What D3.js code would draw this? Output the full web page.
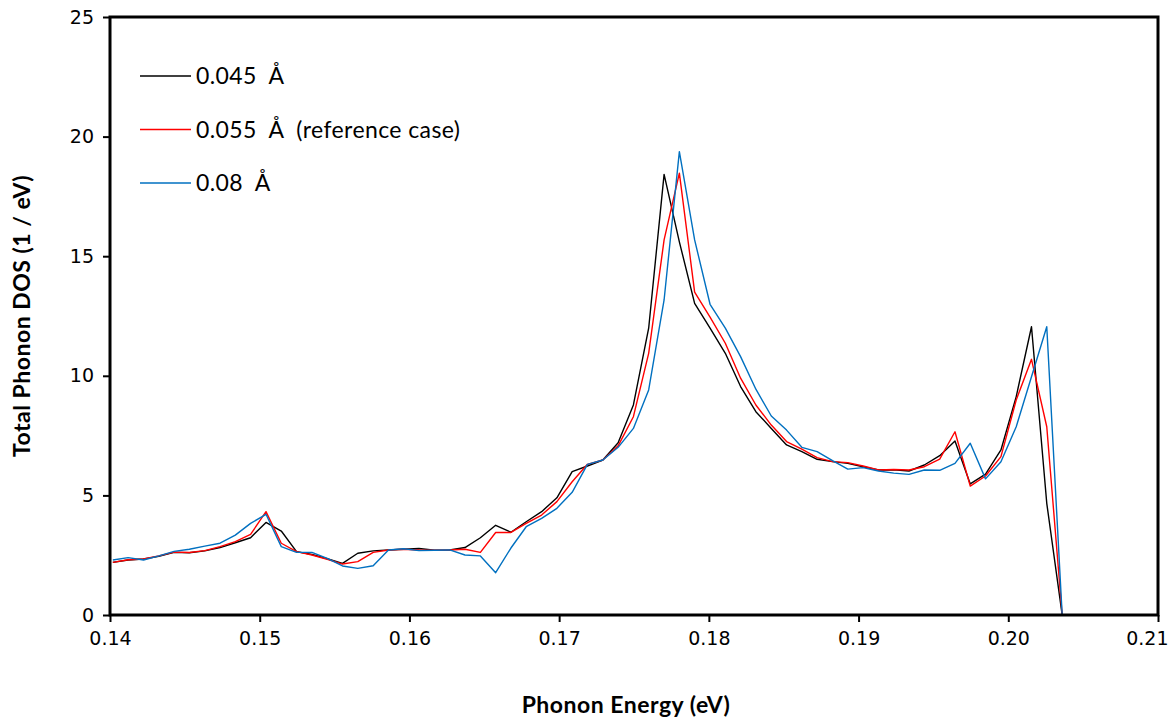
<!DOCTYPE html>
<html lang="en">
  <head>
    <meta charset="UTF-8" />
    <title>Total phonon DOS</title>
    <script src="https://d3js.org/d3.v7.min.js"></script>
    <style>
      body { margin: 0; background: #fff; }
      .tick text { font-family: "DejaVu Sans", sans-serif; font-size: 19px; fill: #000; }
      .tick line { stroke: #000; stroke-width: 2; }
      .title { font-family: Lato, "Open Sans", sans-serif; font-weight: bold; font-size: 23px; letter-spacing: 0.5px; }
      .legend text { font-family: Lato, "Open Sans", sans-serif; font-size: 23px; letter-spacing: 0.4px; white-space: pre; }
    </style>
  </head>
  <body>
    <div id="chart"></div>
    <script>
      // energies of the sampled points (eV)
      const energy = [
        0.14019, 0.14121, 0.14224, 0.14326, 0.14428, 0.1453, 0.14633, 0.14735, 0.14837, 0.14939,
        0.15042, 0.15144, 0.15246, 0.15349, 0.15451, 0.15553, 0.15655, 0.15758, 0.1586, 0.15962,
        0.16064, 0.16167, 0.16269, 0.16371, 0.16474, 0.16576, 0.16678, 0.1678, 0.16883, 0.16985,
        0.17087, 0.17189, 0.17292, 0.17394, 0.17496, 0.17598, 0.17701, 0.17803, 0.17905, 0.18008,
        0.1811, 0.18212, 0.18314, 0.18417, 0.18519, 0.18621, 0.18723, 0.18826, 0.18928, 0.1903,
        0.19133, 0.19235, 0.19337, 0.19439, 0.19542, 0.19644, 0.19746, 0.19848, 0.19951, 0.20053,
        0.20155, 0.20257, 0.2036
      ];

      // 0.045 A
      const dos045 = [
        2.2, 2.3, 2.34, 2.45, 2.62, 2.6, 2.68, 2.82, 3.02, 3.23,
        3.87, 3.51, 2.65, 2.53, 2.35, 2.16, 2.58, 2.68, 2.72, 2.75,
        2.78, 2.71, 2.72, 2.82, 3.23, 3.75, 3.46, 3.9, 4.32, 4.9,
        5.99, 6.23, 6.48, 7.2, 8.78, 11.99, 18.42, 15.6, 13.03, 11.99,
        10.94, 9.55, 8.5, 7.8, 7.11, 6.83, 6.51, 6.41, 6.34, 6.2,
        6.06, 6.07, 6.02, 6.27, 6.66, 7.27, 5.48, 5.89, 6.9, 9.13,
        12.05, 4.67, 0
      ];

      // 0.055 A (reference case)
      const dos055 = [
        2.2, 2.31, 2.34, 2.47, 2.63, 2.61, 2.69, 2.86, 3.07, 3.37,
        4.32, 3.0, 2.65, 2.51, 2.33, 2.13, 2.23, 2.62, 2.72, 2.75,
        2.72, 2.71, 2.72, 2.75, 2.62, 3.45, 3.45, 3.83, 4.18, 4.74,
        5.57, 6.3, 6.48, 7.07, 8.29, 10.94, 15.68, 18.47, 13.5, 12.45,
        11.36, 9.9, 8.78, 7.94, 7.25, 6.93, 6.58, 6.41, 6.37, 6.23,
        6.06, 6.08, 6.06, 6.2, 6.52, 7.66, 5.39, 5.81, 6.62, 8.99,
        10.69, 7.87, 0
      ];

      // 0.08 A
      const dos08 = [
        2.3, 2.4, 2.3, 2.47, 2.66, 2.75, 2.88, 3.0, 3.34, 3.83,
        4.21, 2.86, 2.62, 2.62, 2.37, 2.05, 1.95, 2.06, 2.72, 2.77,
        2.69, 2.71, 2.72, 2.51, 2.47, 1.77, 2.8, 3.69, 4.04, 4.46,
        5.13, 6.3, 6.48, 7.01, 7.8, 9.41, 13.17, 19.37, 15.68, 12.99,
        11.99, 10.8, 9.44, 8.32, 7.73, 7.01, 6.83, 6.45, 6.1, 6.16,
        6.02, 5.93, 5.88, 6.06, 6.05, 6.34, 7.18, 5.69, 6.41, 7.87,
        9.96, 12.05, 0
      ];

      const seriesNames = ["0.045  Å", "0.055  Å  (reference case)", "0.08  Å"];
      const seriesColors = ["#000000", "#ff0000", "#0070c0"];
      const xTicks = [0.14, 0.15, 0.16, 0.17, 0.18, 0.19, 0.2, 0.21];
      const yTicks = [0, 5, 10, 15, 20, 25];

      const width = 1173, height = 719;
      const margin = { top: 17, right: 15, bottom: 104, left: 110 };
      const innerW = width - margin.left - margin.right;
      const innerH = height - margin.top - margin.bottom;

      const svg = d3
        .select("#chart")
        .append("svg")
        .attr("width", width)
        .attr("height", height);

      const g = svg
        .append("g")
        .attr("transform", `translate(${margin.left},${margin.top})`);

      const x = d3.scaleLinear().domain([0.14, 0.21]).range([0, innerW]);
      const y = d3.scaleLinear().domain([0, 25]).range([innerH, 0]);

      // axes (frame drawn separately)
      const xAxis = g
        .append("g")
        .attr("transform", `translate(0,${innerH})`)
        .call(
          d3.axisBottom(x).tickValues(xTicks).tickFormat(d3.format(".2f"))
            .tickSizeInner(7).tickSizeOuter(0).tickPadding(10)
        );
      xAxis.select(".domain").remove();
      // keep the last label inside the picture
      xAxis.selectAll(".tick text")
        .filter((d) => d === 0.21)
        .attr("text-anchor", "end")
        .attr("dx", 10);

      const yAxis = g
        .append("g")
        .call(
          d3.axisLeft(y).tickValues(yTicks).tickSizeInner(7).tickSizeOuter(0).tickPadding(9)
        );
      yAxis.select(".domain").remove();

      // lines
      g.append("clipPath")
        .attr("id", "plotclip")
        .append("rect")
        .attr("width", innerW)
        .attr("height", innerH);

      const line = d3
        .line()
        .x((d) => x(d[0]))
        .y((d) => y(d[1]));

      const allSeries = [dos045, dos055, dos08];
      allSeries.forEach((vals, i) => {
        g.append("path")
          .datum(energy.map((e, j) => [e, vals[j]]))
          .attr("clip-path", "url(#plotclip)")
          .attr("fill", "none")
          .attr("stroke", seriesColors[i])
          .attr("stroke-width", 1.4)
          .attr("stroke-linejoin", "round")
          .attr("d", line);
      });

      // plot frame
      g.append("rect")
        .attr("width", innerW)
        .attr("height", innerH)
        .attr("fill", "none")
        .attr("stroke", "#000")
        .attr("stroke-width", 3);

      // legend
      const legend = g.append("g").attr("class", "legend");
      seriesNames.forEach((name, i) => {
        const ly = 59 + i * 53.5;
        legend
          .append("line")
          .attr("x1", 30)
          .attr("x2", 81)
          .attr("y1", ly)
          .attr("y2", ly)
          .attr("stroke", seriesColors[i])
          .attr("stroke-width", 1.4);
        legend
          .append("text")
          .attr("x", 86)
          .attr("y", ly)
          .attr("dy", "0.35em")
          .text(name);
      });

      // axis titles
      svg.append("text")
        .attr("class", "title")
        .attr("x", 626)
        .attr("y", 713)
        .attr("text-anchor", "middle")
        .text("Phonon Energy (eV)");

      svg.append("text")
        .attr("class", "title")
        .attr("transform", "translate(30,316) rotate(-90)")
        .attr("text-anchor", "middle")
        .text("Total Phonon DOS (1 / eV)");
    </script>
  </body>
</html>
